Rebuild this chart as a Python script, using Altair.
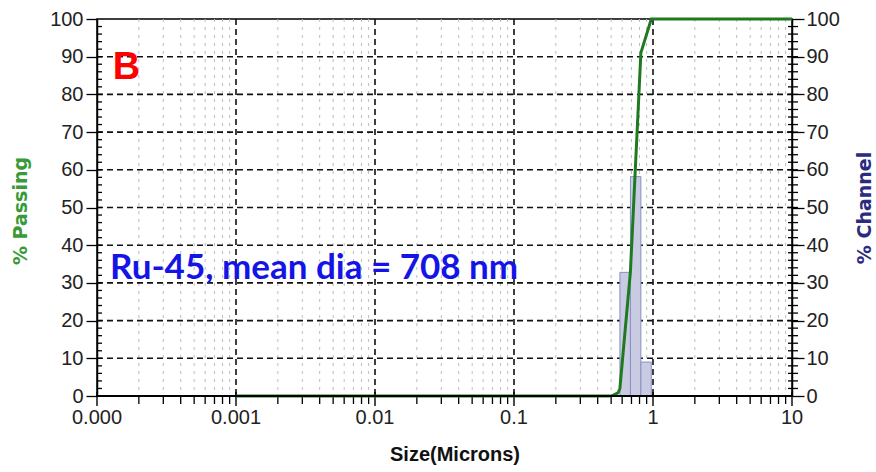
import altair as alt
import pandas as pd

# ---- data ----
size_um = [0.001, 0.5, 0.56, 0.578, 0.688, 0.818, 0.972, 10]
passing_pct = [0, 0, 0.8, 2.0, 33.0, 91.0, 100, 100]

chan_lo = [0.578, 0.688, 0.818]
chan_hi = [0.688, 0.818, 0.972]
chan_pct = [32.8, 58.2, 9.0]

x_ticks = [0.0001, 0.001, 0.01, 0.1, 1, 10]
x_labels = ["0.000", "0.001", "0.01", "0.1", "1", "10"]
y_ticks = [0, 10, 20, 30, 40, 50, 60, 70, 80, 90, 100]
x_minor = [k * 10.0 ** e for e in range(-4, 1) for k in range(2, 10)]
x_major_grid = [0.001, 0.01, 0.1, 1]
y_grid = [10, 20, 30, 40, 50, 60, 70, 80, 90]
y_minor = [v for v in range(2, 100, 2)]

W, H = 695, 377
FONT = "Liberation Sans"

xs = alt.Scale(type="log", domain=[0.0001, 10], nice=False)
ys = alt.Scale(domain=[0, 100], nice=False, zero=True)

line_df = pd.DataFrame({"size": size_um, "passing": passing_pct})
bar_df = pd.DataFrame({"lo": chan_lo, "hi": chan_hi, "pct": chan_pct})
minor_df = pd.DataFrame({"v": x_minor})
major_df = pd.DataFrame({"v": x_major_grid})
ygrid_df = pd.DataFrame({"v": y_grid})
yminor_df = pd.DataFrame({"v": y_minor})
xtick_df = pd.DataFrame({"v": x_ticks, "lab": x_labels})
xtitle_df = pd.DataFrame({"t": ["Size(Microns)"]})

minor_grid = alt.Chart(minor_df).mark_rule(color="#bdbdbd", strokeDash=[3, 5], strokeWidth=1).encode(
    x=alt.X("v:Q", scale=xs, axis=None), y=alt.value(0), y2=alt.value(H))

major_grid = alt.Chart(major_df).mark_rule(color="#111", strokeDash=[6, 4], strokeWidth=1.6).encode(
    x=alt.X("v:Q", scale=xs, axis=None), y=alt.value(0), y2=alt.value(H))

h_grid = alt.Chart(ygrid_df).mark_rule(color="#111", strokeDash=[6, 4], strokeWidth=1.6).encode(
    y=alt.Y("v:Q", scale=ys, axis=None), x=alt.value(0), x2=alt.value(W))

# bottom axis: ticks, labels, title
x_minor_ticks = alt.Chart(minor_df).mark_rule(color="#000", strokeWidth=1.3).encode(
    x=alt.X("v:Q", scale=xs, axis=None), y=alt.value(H), y2=alt.value(H + 8))

x_major_ticks = alt.Chart(xtick_df).mark_rule(color="#000", strokeWidth=1.4).encode(
    x=alt.X("v:Q", scale=xs, axis=None), y=alt.value(H - 4), y2=alt.value(H + 10))

x_tick_labels = alt.Chart(xtick_df).mark_text(font=FONT, fontSize=20, color="#222",
                                              align="center", baseline="top").encode(
    x=alt.X("v:Q", scale=xs, axis=None), y=alt.value(H + 12), text="lab:N")

x_title = alt.Chart(xtitle_df).mark_text(font=FONT, fontSize=20, fontWeight="bold", color="#111",
                                         align="center", baseline="middle").encode(
    x=alt.value(358), y=alt.value(H + 59), text="t:N")

bottom_line = alt.Chart(xtick_df).mark_rule(color="#000", strokeWidth=2).encode(
    x=alt.value(0), x2=alt.value(W), y=alt.value(H))

left_minor = alt.Chart(yminor_df).mark_rule(color="#000", strokeWidth=1.3).encode(
    y=alt.Y("v:Q", scale=ys, axis=None), x=alt.value(0), x2=alt.value(5))

right_minor = alt.Chart(yminor_df).mark_rule(color="#000", strokeWidth=1.3).encode(
    y=alt.Y("v:Q", scale=ys, axis=None), x=alt.value(W - 4), x2=alt.value(W + 6))

bars = alt.Chart(bar_df).mark_rect(fill="#c9cbe3", stroke="#8a8fc4", strokeWidth=1).encode(
    x=alt.X("lo:Q", scale=xs, axis=None),
    x2="hi:Q",
    y=alt.Y("pct:Q", scale=ys,
            axis=alt.Axis(orient="right", values=y_ticks, title="% Channel",
                          titleColor="#2b2b80", titleFont="DejaVu Sans", titleFontSize=19,
                          titleFontWeight="bold", titleAngle=270, titleX=72, titleY=H / 2,
                          titleAlign="center", titleBaseline="middle",
                          labelFont=FONT, labelFontSize=20, labelColor="#222",
                          tickSize=12, tickColor="#000", tickWidth=1.3, labelPadding=2,
                          domainColor="#000", domainWidth=1.5, grid=False)),
    y2=alt.datum(0),
)

line = alt.Chart(line_df).mark_line(color="#1f7a1f", strokeWidth=3).encode(
    x=alt.X("size:Q", scale=xs, axis=None),
    y=alt.Y("passing:Q", scale=ys,
            axis=alt.Axis(orient="left", values=y_ticks, title="% Passing",
                          titleColor="#3a9a3a", titleFont="DejaVu Sans", titleFontSize=19,
                          titleFontWeight="bold", titleAngle=270, titleX=-77, titleY=H / 2 + 3,
                          titleAlign="center", titleBaseline="middle",
                          labelFont=FONT, labelFontSize=20, labelColor="#222",
                          tickSize=11, tickColor="#000", tickWidth=1.3, labelPadding=3,
                          domainColor="#000", domainWidth=1.5, grid=False)),
    order="size:Q",
)

b_df = pd.DataFrame({"x": [0.00013], "y": [87], "t": ["B"]})
note_df = pd.DataFrame({"x": [0.000124], "y": [34], "t": ["Ru-45, mean dia = 708 nm"]})

b_text = alt.Chart(b_df).mark_text(color="#ff0000", font="Liberation Sans", fontSize=38,
                                   fontWeight="bold", align="left", baseline="middle").encode(
    x=alt.X("x:Q", scale=xs, axis=None), y=alt.Y("y:Q", scale=ys, axis=None), text="t:N")

note_text = alt.Chart(note_df).mark_text(color="#1414e6", font="Lato", fontSize=35,
                                         fontWeight="bold", align="left", baseline="middle").encode(
    x=alt.X("x:Q", scale=xs, axis=None), y=alt.Y("y:Q", scale=ys, axis=None), text="t:N")

chart = alt.layer(
    minor_grid, major_grid, h_grid, x_minor_ticks, x_major_ticks, x_tick_labels, x_title,
    left_minor, right_minor, bars, line, bottom_line, b_text, note_text
).properties(
    width=W, height=H,
    padding={"left": 97, "top": 19, "right": 876 - 97 - W, "bottom": 472 - 19 - H},
    autosize=alt.AutoSizeParams(type="none"),
    background="white",
).resolve_scale(y="independent").configure_view(stroke="#000", strokeWidth=1.5)

chart.save("out.html", embed_options={"renderer": "svg", "actions": False})
